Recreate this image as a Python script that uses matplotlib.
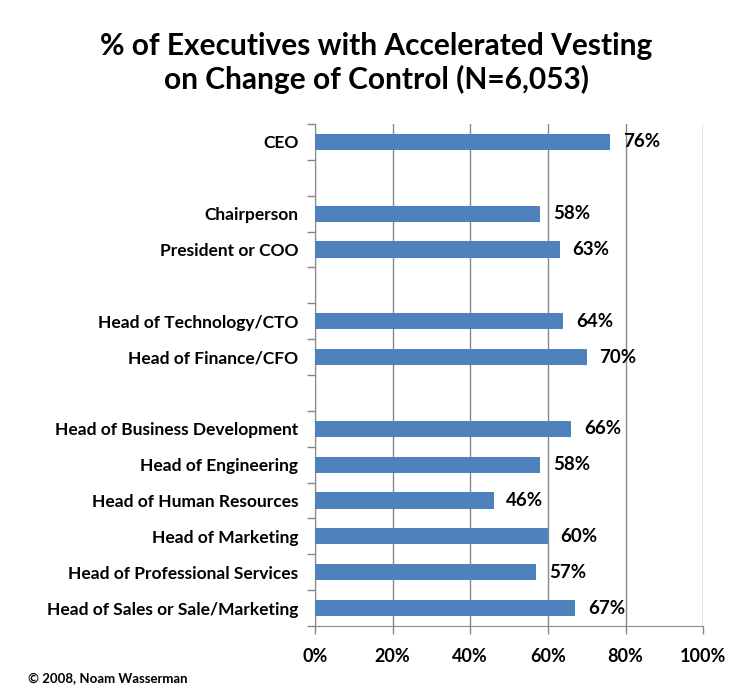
import matplotlib
matplotlib.use("Agg")
import matplotlib.pyplot as plt

plt.rcParams['font.family'] = ['Lato', 'DejaVu Sans']

# rows top to bottom; empty strings are the spacer rows
labels = ["CEO", "", "Chairperson", "President or COO", "",
          "Head of Technology/CTO", "Head of Finance/CFO", "",
          "Head of Business Development", "Head of Engineering",
          "Head of Human Resources", "Head of Marketing",
          "Head of Professional Services", "Head of Sales or Sale/Marketing"]
values = [76, None, 58, 63, None, 64, 70, None, 66, 58, 46, 60, 57, 67]
x_ticks = [0, 20, 40, 60, 80, 100]

fig = plt.figure(figsize=(7.52, 6.96), dpi=100)
ax = fig.add_axes([0.419, 0.1006, 0.516, 0.7212])

n = len(labels)
ys = [n - 1 - i for i in range(n)]
for y, v in zip(ys, values):
    if v is None:
        continue
    ax.barh(y, v, height=0.45, color="#4F81BD", zorder=3)
    ax.text(v + 3.3, y, "%d%%" % v, va="center", ha="left", fontsize=13.5,
            fontweight="bold", color="black")

ax.set_xlim(0, 100)
ax.set_ylim(-0.5, n - 0.5)
ax.set_xticks(x_ticks)
ax.set_xticklabels(["%d%%" % t for t in x_ticks], fontsize=13, fontweight="bold")
ax.set_yticks(ys)
ax.set_yticklabels(labels, fontsize=12.5, fontweight="bold")
ax.tick_params(axis="y", length=0, pad=18)
ax.set_yticks([y + 0.5 for y in range(-1, n)], minor=True)
ax.tick_params(axis="y", which="minor", length=6, color="#888888", width=1)
ax.tick_params(axis="x", length=6, color="#888888", width=1, pad=10)
ax.grid(axis="x", color="#888888", linewidth=1, zorder=0)
for s in ["top", "right"]:
    ax.spines[s].set_visible(False)
for s in ["left", "bottom"]:
    ax.spines[s].set_color("#888888")
for lbl in ax.get_yticklabels():
    lbl.set_x(-0.0)
ax.tick_params(axis="y", pad=12)

fig.text(0.5, 0.91, "% of Executives with Accelerated Vesting\non Change of Control (N=6,053)",
         ha="center", va="center", fontsize=21.5, fontweight="bold", linespacing=1.2)
fig.text(0.037, 0.02, "\u00a9 2008, Noam Wasserman", fontsize=9.5, fontweight="bold")

fig.savefig("out.png", dpi=100)
